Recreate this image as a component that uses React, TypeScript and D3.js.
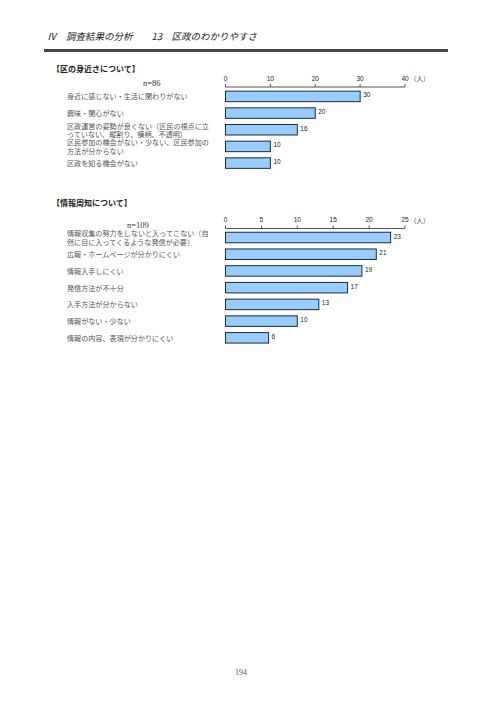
import React from "react";
import * as d3 from "d3";

const headerText = "Ⅳ　調査結果の分析　　13　区政のわかりやすさ";

const title1 = "【区の身近さについて】";
const n1 = "n=86";
const categories1 = [
  ["身近に感じない・生活に関わりがない"],
  ["興味・関心がない"],
  ["区政運営の姿勢が良くない（区民の視点に立", "っていない、縦割り、横柄、不透明）"],
  ["区民参加の機会がない・少ない、区民参加の", "方法が分からない"],
  ["区政を知る機会がない"],
];
const values1 = [30, 20, 16, 10, 10];
const ticks1 = [0, 10, 20, 30, 40];

const title2 = "【情報周知について】";
const n2 = "n=109";
const categories2 = [
  ["情報収集の努力をしないと入ってこない（自", "然に目に入ってくるような発信が必要）"],
  ["広報・ホームページが分かりにくい"],
  ["情報入手しにくい"],
  ["発信方法が不十分"],
  ["入手方法が分からない"],
  ["情報がない・少ない"],
  ["情報の内容、表現が分かりにくい"],
];
const values2 = [23, 21, 19, 17, 13, 10, 6];
const ticks2 = [0, 5, 10, 15, 20, 25];

const unit = "（人）";
const pageNumber = "194";

const JP = "'Noto Sans CJK JP', sans-serif";
const SERIF = "'Liberation Serif', 'DejaVu Serif', serif";
const SANS = "'Liberation Sans', Arial, sans-serif";

type ChartProps = {
  title: string;
  n: string;
  nX: number;
  titleY: number;
  axisY: number;
  firstCenter: number;
  step: number;
  categories: string[][];
  values: number[];
  ticks: number[];
};

function BarChart({ title, n, nX, titleY, axisY, firstCenter, step, categories, values, ticks }: ChartProps) {
  const x = d3.scaleLinear().domain([0, ticks[ticks.length - 1]]).range([225.5, 405]);
  const keys = categories.map((c, i) => String(i));
  const y = d3
    .scalePoint<string>()
    .domain(keys)
    .range([firstCenter, firstCenter + step * (keys.length - 1)]);
  const barH = 10.5;
  const lineH = 8.2;
  return (
    <g>
      <text x={52} y={titleY} dominantBaseline="central" fontFamily={JP} fontWeight="bold" fontSize={8} fill="#222">
        {title}
      </text>
      <text x={nX} y={axisY - 4} dominantBaseline="central" fontFamily={SERIF} fontSize={8.5} fill="#333">
        {n}
      </text>
      <line x1={x(0)} x2={x(ticks[ticks.length - 1])} y1={axisY} y2={axisY} stroke="#555" strokeWidth={1} />
      {ticks.map((t) => (
        <g key={t}>
          <line x1={x(t)} x2={x(t)} y1={axisY} y2={axisY - 3} stroke="#555" strokeWidth={1} />
          <text x={x(t)} y={axisY - 9} textAnchor="middle" dominantBaseline="central" fontFamily={SANS} fontSize={6.5} fill="#222">
            {t}
          </text>
        </g>
      ))}
      <text x={x(ticks[ticks.length - 1]) + 5} y={axisY - 9} dominantBaseline="central" fontFamily={JP} fontSize={6.5} fill="#444">
        {unit}
      </text>
      {keys.map((k, i) => {
        const cy = y(k) as number;
        const lines = categories[i];
        const start = cy - ((lines.length - 1) * lineH) / 2;
        return (
          <g key={k}>
            <rect
              x={x(0)}
              y={cy - barH / 2}
              width={x(values[i]) - x(0)}
              height={barH}
              fill="#99CCFF"
              stroke="#1f2a3a"
              strokeWidth={1}
            />
            <text x={x(values[i]) + 3} y={cy - 1.5} dominantBaseline="central" fontFamily={SANS} fontSize={6.5} fill="#222">
              {values[i]}
            </text>
            {lines.map((ln, j) => (
              <text
                key={j}
                x={67}
                y={start + j * lineH}
                dominantBaseline="central"
                fontFamily={JP}
                fontSize={7.1}
                fill="#555"
              >
                {ln}
              </text>
            ))}
          </g>
        );
      })}
    </g>
  );
}

export default function App() {
  return (
    <svg width={496} height={702} style={{ position: "absolute", left: 0, top: 0, background: "#fff" }}>
      <rect x={0} y={0} width={496} height={702} fill="#fff" />
      <text x={47} y={36} dominantBaseline="central" fontFamily={JP} fontStyle="italic" fontSize={9.5} fill="#222">
        {headerText}
      </text>
      <rect x={44} y={49} width={404} height={3} fill="#444" />
      <BarChart
        title={title1}
        n={n1}
        nX={143}
        titleY={68.5}
        axisY={87}
        firstCenter={96.4}
        step={16.67}
        categories={categories1}
        values={values1}
        ticks={ticks1}
      />
      <BarChart
        title={title2}
        n={n2}
        nX={127}
        titleY={202.5}
        axisY={228.5}
        firstCenter={237.5}
        step={16.72}
        categories={categories2}
        values={values2}
        ticks={ticks2}
      />
      <text x={241} y={672} textAnchor="middle" dominantBaseline="central" fontFamily={SERIF} fontSize={8} fill="#555">
        {pageNumber}
      </text>
    </svg>
  );
}
